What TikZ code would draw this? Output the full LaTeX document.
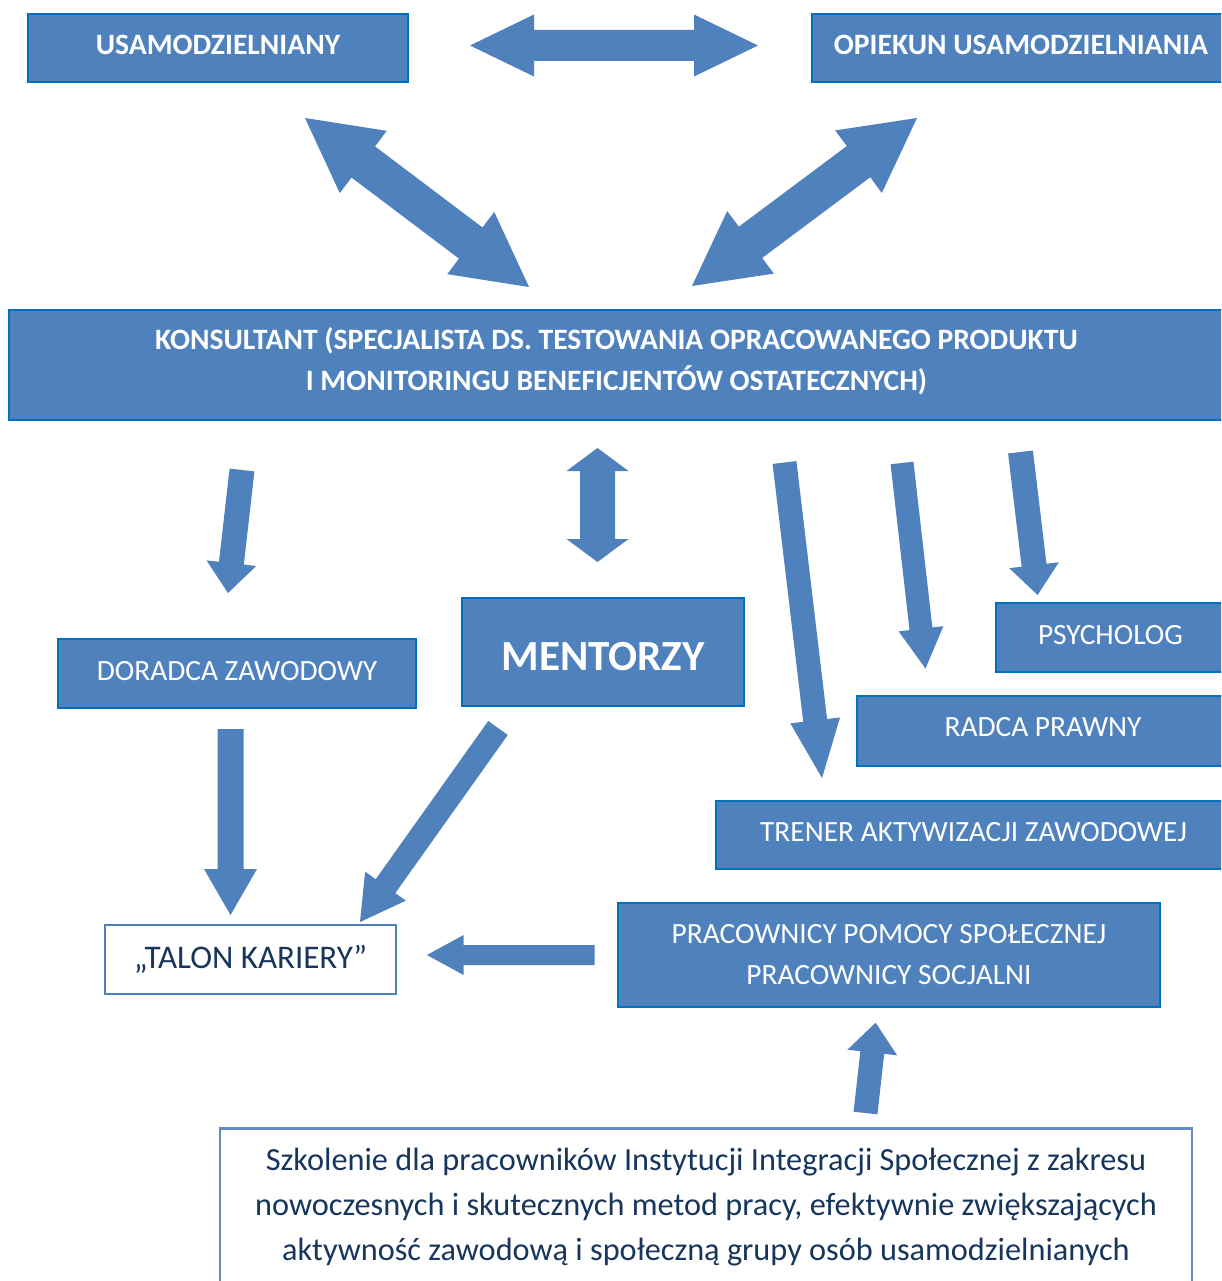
\documentclass[tikz,border=0pt]{standalone}
\usepackage{fontspec}
\setmainfont{Carlito}
\usetikzlibrary{calc}
\definecolor{boxfill}{HTML}{4F81BD}
\definecolor{boxline}{HTML}{0070C0}
\definecolor{arrowblue}{HTML}{4F81BD}
\definecolor{navytext}{HTML}{17365D}
\definecolor{talonline}{HTML}{4F81BD}
\definecolor{szkline}{HTML}{5F8AC4}
\tikzset{
  bluebox/.style={draw=boxline, line width=2.5pt, fill=boxfill, text=white, inner sep=0pt, align=center},
  hbold/.style={font=\fontsize{29.6}{41}\selectfont\bfseries},
  hreg/.style={font=\fontsize{29.4}{41}\selectfont},
  talonbox/.style={draw=talonline, line width=2.5pt, fill=white, text=navytext, inner sep=0pt, align=center, font=\fontsize{33}{41}\selectfont},
  szkbox/.style={draw=szkline, line width=2.5pt, fill=white, inner sep=0pt},
  szktext/.style={text=navytext, align=center, inner sep=0pt, font=\fontsize{32.3}{45}\selectfont},
  arrowfill/.style={fill=arrowblue}
}
% invisible strut giving extra depth (moves centred text up by half of it)
\newcommand{\dn}[1]{\rule[-#1]{0pt}{0pt}}
% single block arrow: tail, tip, half shaft, half head, head length
\newcommand{\sarrow}[5]{%
  \path ($(#2)!#5!(#1)$) coordinate (hb);
  \fill[arrowfill] ($(#1)!#3!90:(#2)$) -- ($(hb)!#3!-90:(#1)$) -- ($(hb)!#4!-90:(#1)$) -- (#2)
     -- ($(hb)!#4!90:(#1)$) -- ($(hb)!#3!90:(#1)$) -- ($(#1)!#3!-90:(#2)$) -- cycle;
}
% double block arrow: end A, end B, half shaft, half head, head length
\newcommand{\darrow}[5]{%
  \path ($(#1)!#5!(#2)$) coordinate (ha) ($(#2)!#5!(#1)$) coordinate (hb);
  \fill[arrowfill] (#1) -- ($(ha)!#4!90:(#2)$) -- ($(ha)!#3!90:(#2)$) -- ($(hb)!#3!-90:(#1)$)
     -- ($(hb)!#4!-90:(#1)$) -- (#2) -- ($(hb)!#4!90:(#1)$) -- ($(hb)!#3!90:(#1)$)
     -- ($(ha)!#3!-90:(#2)$) -- ($(ha)!#4!-90:(#2)$) -- cycle;
}
\begin{document}
\begin{tikzpicture}[x=1pt,y=-1pt]
\clip (0,0) rectangle (1221,1281);
\fill[white] (0,0) rectangle (1221,1281);

% boxes
\node[bluebox, hbold, minimum width=380pt, minimum height=68pt] (usam) at (218,48) {USAMODZIELNIANY\dn{6pt}};
\node[bluebox, hbold, minimum width=418pt, minimum height=68pt] (opiekun) at (1021,48) {OPIEKUN USAMODZIELNIANIA\dn{6pt}};
\node[bluebox, hbold, minimum width=1215pt, minimum height=110pt] (konsultant) at (616.5,365)
  {KONSULTANT (SPECJALISTA DS. TESTOWANIA OPRACOWANEGO PRODUKTU\\I MONITORINGU BENEFICJENTÓW OSTATECZNYCH)\dn{11pt}};
\node[bluebox, hreg, minimum width=358pt, minimum height=69pt] (doradca) at (237,673.5) {DORADCA ZAWODOWY\dn{6pt}};
\node[bluebox, font=\fontsize{43}{45}\selectfont\bfseries, minimum width=282pt, minimum height=108pt] (mentorzy) at (603,652) {\rule{0pt}{38pt}MENTORZY};
\node[bluebox, hreg, minimum width=229pt, minimum height=69pt] (psycholog) at (1110.5,637.5) {PSYCHOLOG\dn{6pt}};
\node[bluebox, hreg, minimum width=372pt, minimum height=70pt] (radca) at (1043,731) {RADCA PRAWNY\dn{8pt}};
\node[bluebox, hreg, minimum width=515pt, minimum height=68pt] (trener) at (973.5,835) {TRENER AKTYWIZACJI ZAWODOWEJ\dn{6pt}};
\node[talonbox, minimum width=291pt, minimum height=69pt] (talon) at (250.5,959.5) {„TALON KARIERY”};
\node[bluebox, hreg, minimum width=542pt, minimum height=104pt] (pracownicy) at (889,955)
  {PRACOWNICY POMOCY SPOŁECZNEJ\\PRACOWNICY SOCJALNI\dn{2pt}};
\node[szkbox, minimum width=972pt, minimum height=190pt, anchor=north] (szkolenie) at (706,1127) {};
\node[szktext] (szkolenietext) at (706,1207)
  {Szkolenie dla pracowników Instytucji Integracji Społecznej z zakresu\\
   nowoczesnych i skutecznych metod pracy, efektywnie zwiększających\\
   aktywność zawodową i społeczną grupy osób usamodzielnianych};

% arrow end points
\coordinate (a1s) at (470,45.5);   \coordinate (a1e) at (758,45.5);
\coordinate (a2s) at (305,118);    \coordinate (a2e) at (529,287);
\coordinate (a3s) at (917,118);    \coordinate (a3e) at (692,286);
\coordinate (a4s) at (242,470);    \coordinate (a4e) at (228,593);
\coordinate (a5s) at (597.5,448);  \coordinate (a5e) at (597.5,562);
\coordinate (a6s) at (784.5,462.5);\coordinate (a6e) at (822,778);
\coordinate (a7s) at (902,463);    \coordinate (a7e) at (925.5,668.5);
\coordinate (a8s) at (1020.5,452); \coordinate (a8e) at (1037.6,595);
\coordinate (a9s) at (230.5,729);  \coordinate (a9e) at (230.5,915);
\coordinate (a10s) at (498,728);   \coordinate (a10e) at (360,922);
\coordinate (a11s) at (594.5,955); \coordinate (a11e) at (427,955);
\coordinate (a12s) at (865.5,1113);\coordinate (a12e) at (875.6,1022.7);

% arrows
\darrow{a1s}{a1e}{15.5pt}{31pt}{64pt}
\darrow{a2s}{a2e}{19.5pt}{39pt}{73pt}
\darrow{a3s}{a3e}{19.5pt}{39pt}{73pt}
\sarrow{a4s}{a4e}{12.5pt}{25pt}{30pt}
\darrow{a5s}{a5e}{17.5pt}{31pt}{23pt}
\sarrow{a6s}{a6e}{12pt}{25pt}{58pt}
\sarrow{a7s}{a7e}{11.5pt}{22.5pt}{40pt}
\sarrow{a8s}{a8e}{12.5pt}{25pt}{30pt}
\sarrow{a9s}{a9e}{13pt}{26.5pt}{46pt}
\sarrow{a10s}{a10e}{12pt}{25pt}{44pt}
\sarrow{a11s}{a11e}{10pt}{20pt}{36.5pt}
\sarrow{a12s}{a12e}{12pt}{25pt}{30pt}
\end{tikzpicture}
\end{document}
